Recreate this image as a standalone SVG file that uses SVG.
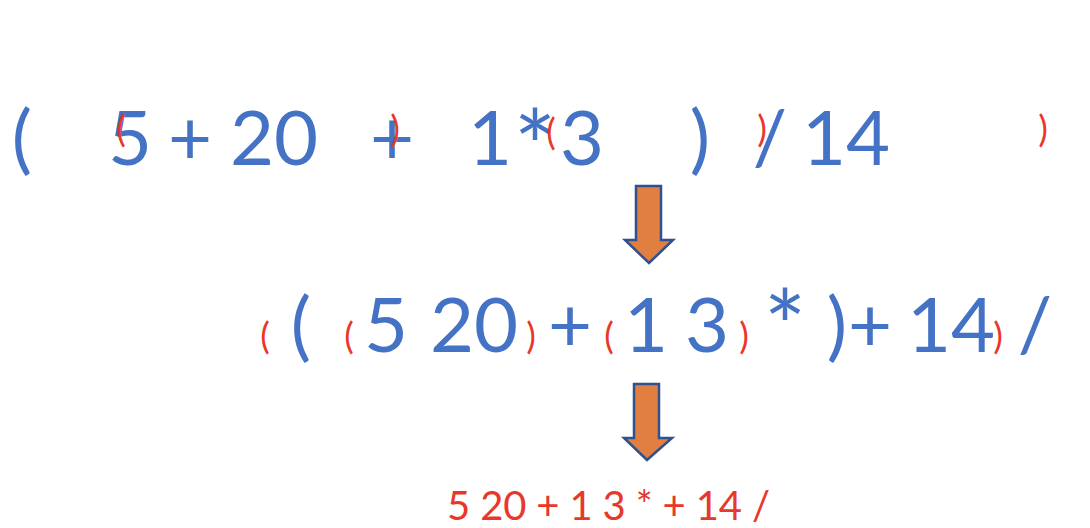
<svg xmlns="http://www.w3.org/2000/svg" width="1090" height="528" viewBox="0 0 1090 528">
<style>
.b{font-family:Lato,"Open Sans","Liberation Sans",sans-serif;font-size:76px;fill:#4472C4;text-anchor:middle}
.s{font-size:100px}
.r{font-family:Lato,"Open Sans","Liberation Sans",sans-serif;font-size:36px;fill:#E8382C;text-anchor:middle}
.p{font-family:Lato,"Open Sans","Liberation Sans",sans-serif;font-size:40px;fill:#E8382C}
.arrow{fill:#E07F40;stroke:#2F528F;stroke-width:2.5;stroke-linejoin:miter}
</style>
<rect width="1090" height="528" fill="#ffffff"/>
<g id="infix">
<text class="b" x="22" y="165">(</text>
<text class="b" x="130" y="165">5</text>
<text class="b" x="190" y="165">+</text>
<text class="b" x="274" y="165">20</text>
<text class="b" x="392" y="165">+</text>
<text class="b" x="490" y="165">1</text>
<text class="b s" x="535" y="184">*</text>
<text class="b" x="582" y="165">3</text>
<text class="b" x="700" y="165">)</text>
<text class="b" x="770" y="165">/</text>
<text class="b" x="846" y="165">14</text>
<text class="r" x="121" y="142">(</text>
<text class="r" x="395" y="142">)</text>
<text class="r" x="551" y="145">(</text>
<text class="r" x="762" y="142">)</text>
<text class="r" x="1043" y="142">)</text>
</g>
<g id="intermediate">
<text class="r" x="265" y="349">(</text>
<text class="b" x="301" y="352">(</text>
<text class="r" x="349" y="349">(</text>
<text class="b" x="386" y="352">5</text>
<text class="b" x="474" y="352">20</text>
<text class="r" x="531" y="349">)</text>
<text class="b" x="570" y="352">+</text>
<text class="r" x="609" y="349">(</text>
<text class="b" x="646" y="352">1</text>
<text class="b" x="707" y="352">3</text>
<text class="r" x="744" y="349">)</text>
<text class="b s" x="785" y="364">*</text>
<text class="b" x="837" y="352">)</text>
<text class="b" x="870" y="352">+</text>
<text class="b" x="951" y="352">14</text>
<text class="r" x="998" y="349">)</text>
<text class="b" x="1035" y="352">/</text>
</g>
<g id="postfix">
<text class="p" x="447" y="520" textLength="323" lengthAdjust="spacing">5 20 + 1 3 * + 14 /</text>
</g>
<g id="connectors">
<polygon class="arrow" points="636,186 661,186 661,240 673,240 649,263 625,240 636,240"/>
<polygon class="arrow" points="634,384 659,384 659,438 672,438 647,460 624,438 634,438"/>
</g>
</svg>
